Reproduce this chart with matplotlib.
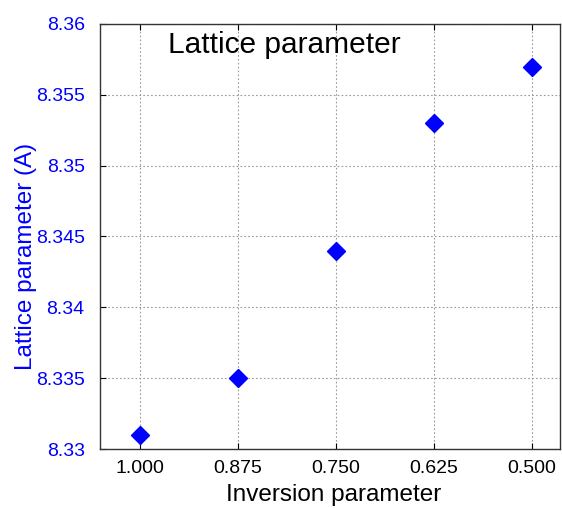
import matplotlib
matplotlib.use("Agg")
import matplotlib.pyplot as plt

inversion = [1.000, 0.875, 0.750, 0.625, 0.500]
lattice = [8.331, 8.335, 8.344, 8.353, 8.357]
xtick_labels = ["1.000", "0.875", "0.750", "0.625", "0.500"]
yticks = [8.33, 8.335, 8.34, 8.345, 8.35, 8.355, 8.36]
ytick_labels = ["8.33", "8.335", "8.34", "8.345", "8.35", "8.355", "8.36"]

plt.rcParams['font.family'] = ['Liberation Sans', 'DejaVu Sans']

fig = plt.figure(figsize=(5.62, 5.08), dpi=100)
ax = fig.add_axes([100/562, 1 - 449/508, 460/562, 425/508])

ax.plot(inversion, lattice, linestyle='none', marker='D', color='#0000ff',
        markersize=9.5, zorder=3)

ax.set_xlim(1.051, 0.464)
ax.set_ylim(8.33, 8.36)
ax.set_xticks(inversion)
ax.set_xticklabels(xtick_labels)
ax.set_yticks(yticks)
ax.set_yticklabels(ytick_labels)

ax.grid(True, linestyle=(0, (1.5, 2)), color='#999999', linewidth=0.8)
ax.tick_params(axis='both', direction='in', length=4, top=True, right=False,
               labelsize=14, pad=8)
ax.tick_params(axis='y', labelcolor='#0000ff', pad=11)
for s in ax.spines.values():
    s.set_color('#333333')
    s.set_linewidth(1.0)

ax.set_xlabel('Inversion parameter', fontsize=17.5, labelpad=5)
ax.xaxis.set_label_coords(0.507, -0.083)
ax.set_ylabel('Lattice parameter (A)', fontsize=17.5, color='#0000ff')
ax.yaxis.set_label_coords(-0.138, 0.452)
ax.text(0.40, 0.95, 'Lattice parameter', transform=ax.transAxes,
        fontsize=21.5, ha='center', va='center', color='black')

fig.savefig('out.png', dpi=100)
